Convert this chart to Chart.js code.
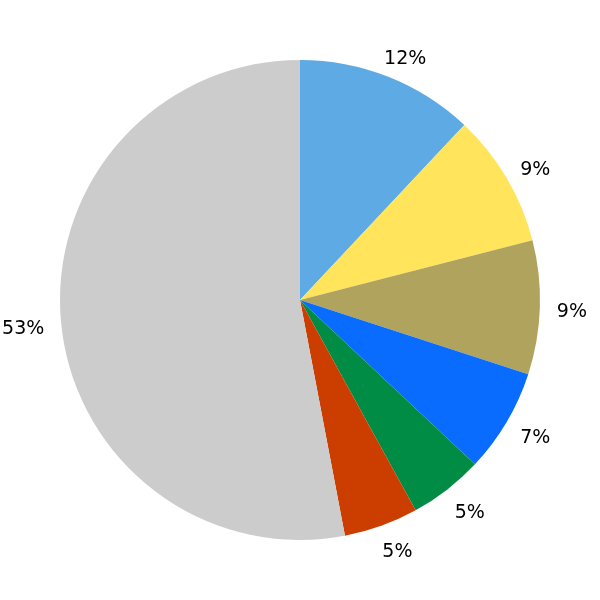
<!DOCTYPE html>
<html>
<head>
<meta charset="utf-8">
<script src="https://cdn.jsdelivr.net/npm/chart.js@4/dist/chart.umd.min.js"></script>
<style>
html,body{margin:0;padding:0;background:#fff;}
#wrap{width:600px;height:600px;}
</style>
</head>
<body>
<div id="wrap"><canvas id="c" width="600" height="600"></canvas></div>
<script>
const categories = ["A", "B", "C", "D", "E", "F", "G"];
const values = [12, 9, 9, 7, 5, 5, 53];
const labels = ["12%", "9%", "9%", "7%", "5%", "5%", "53%"];
const colors = ["#5DAAE4", "#FFE45C", "#B0A35E", "#0A6CFF", "#008C45", "#CC3D00", "#CCCCCC"];

const labelPlugin = {
  id: 'outerLabels',
  afterDatasetsDraw(chart) {
    const ctx = chart.ctx;
    const meta = chart.getDatasetMeta(0);
    ctx.save();
    ctx.font = '19px "DejaVu Sans"';
    ctx.fillStyle = '#000';
    ctx.textAlign = 'center';
    ctx.textBaseline = 'alphabetic';
    meta.data.forEach((arc, i) => {
      const p = arc.getProps(['x', 'y', 'startAngle', 'endAngle', 'outerRadius'], true);
      const mid = (p.startAngle + p.endAngle) / 2;
      const c = Math.cos(mid), s = Math.sin(mid);
      const r = p.outerRadius * 1.1;
      const shift = c >= 0 ? 8 : -14;
      ctx.fillText(labels[i], p.x + c * r + shift, p.y + s * r + 9);
    });
    ctx.restore();
  }
};

new Chart(document.getElementById('c'), {
  type: 'pie',
  data: {
    labels: categories,
    datasets: [{
      data: values,
      backgroundColor: colors,
      borderWidth: 0
    }]
  },
  options: {
    responsive: false,
    animation: false,
    layout: { padding: 60 },
    plugins: {
      legend: { display: false },
      tooltip: { enabled: false }
    }
  },
  plugins: [labelPlugin]
});
</script>
</body>
</html>
